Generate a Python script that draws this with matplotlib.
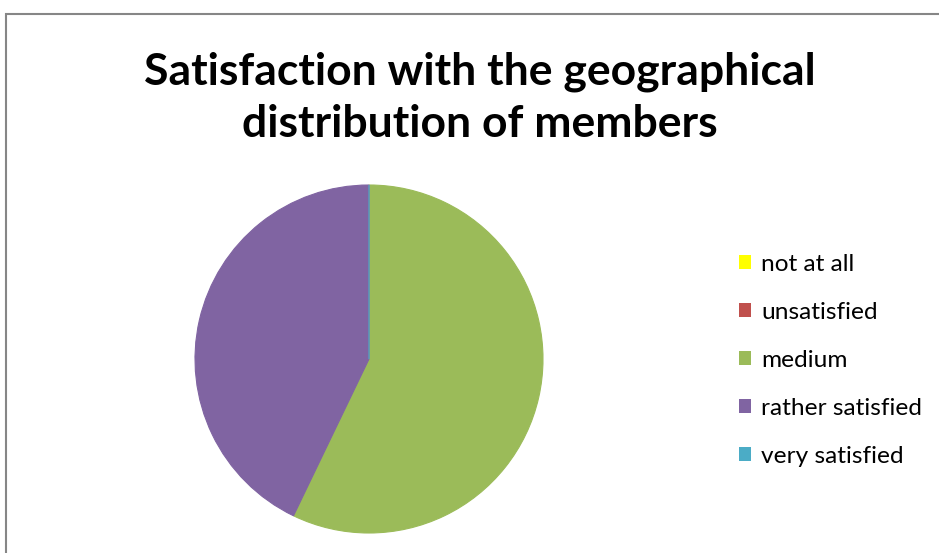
import matplotlib.pyplot as plt
from matplotlib.patches import Rectangle, Patch

# survey answers
categories = ['not at all', 'unsatisfied', 'medium', 'rather satisfied', 'very satisfied']
counts = [0, 0, 4, 3, 0]
colors = ['#FFFF00', '#C0504D', '#9BBB59', '#8064A2', '#4BACC6']

plt.rcParams['font.family'] = ['Lato', 'DejaVu Sans']

fig = plt.figure(figsize=(9.39, 5.53), dpi=100)
W, H = 939, 553

# chart frame
fig.patches.append(Rectangle((6 / W, -0.1), 1.2, 1 - 14 / H + 0.1,
                             transform=fig.transFigure, fill=False,
                             edgecolor='#868686', linewidth=1.5))

fig.text(480 / W, 1 - 98 / H, 'Satisfaction with the geographical\ndistribution of members',
         ha='center', va='center', fontsize=32, fontweight='bold', linespacing=1.35)

cx, cy, r = 369, 359, 174
ax = fig.add_axes([(cx - r) / W, (H - cy - r) / H, 2 * r / W, 2 * r / H])
wedges, _ = ax.pie(counts, colors=colors, startangle=90, counterclock=False,
                   radius=1)
for w, c in zip(wedges, colors):
    w.set_edgecolor(c)
    w.set_linewidth(0.8)
ax.set_xlim(-1, 1)
ax.set_ylim(-1, 1)
ax.set_aspect('equal')
ax.axis('off')

handles = [Patch(facecolor=c, edgecolor='none') for c in colors]
fig.legend(handles, categories, loc='upper left', bbox_to_anchor=(717 / W, 1 - 232 / H),
           frameon=False, fontsize=17.6, handlelength=0.5, handleheight=0.5,
           handletextpad=0.4, labelspacing=1.1)

fig.savefig('out.png', dpi=100)
